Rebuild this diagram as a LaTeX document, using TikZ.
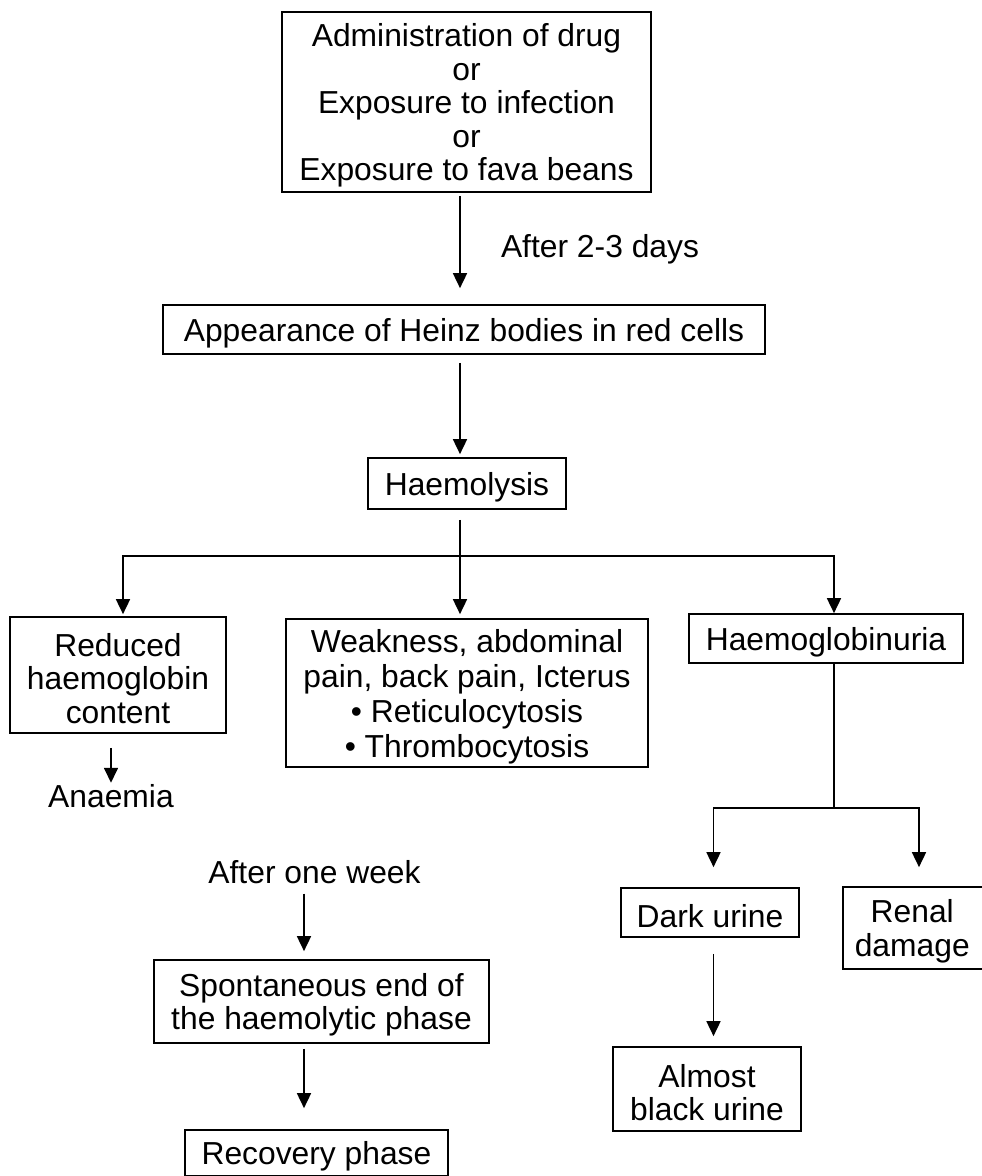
\documentclass[tikz,border=0pt]{standalone}
\usepackage{fontspec}
\setmainfont{Liberation Sans}
\usetikzlibrary{arrows.meta,calc}
\begin{document}
\begin{tikzpicture}[x=1pt,y=-1pt,
  txt/.style={font=\fontsize{31.8}{33.5}\selectfont},
  box/.style={draw, line width=1.7pt, inner sep=0pt},
  btxt/.style={txt, align=center, inner sep=0pt, yshift=-3.5pt},
  lbl/.style={txt, inner sep=0pt, anchor=base},
  arr/.style={line width=1.7pt, -{Triangle[length=15pt,width=14pt]}},
  ln/.style={line width=1.7pt}]
\useasboundingbox (0,0) rectangle (982,1176);

\node[box, minimum width=369pt, minimum height=180pt,
  label={[btxt]center:{Administration of drug\\or\\Exposure to infection\\or\\Exposure to fava beans}}] (top) at (466.5,102) {};
\node[lbl] (days) at (600,257) {After 2-3 days};
\node[box, minimum width=602pt, minimum height=49pt,
  label={[btxt]center:{Appearance of Heinz bodies in red cells}}] (heinz) at (464,329.5) {};
\node[box, minimum width=198pt, minimum height=51pt,
  label={[btxt]center:{Haemolysis}}] (haem) at (467,483.5) {};
\node[box, minimum width=216pt, minimum height=116pt,
  label={[btxt]center:{Reduced\\haemoglobin\\content}}] (left) at (118,675) {};
\node[box, minimum width=362pt, minimum height=148pt,
  label={[btxt, font=\fontsize{31.8}{35}\selectfont]center:{Weakness, abdominal\\pain, back pain, Icterus\\• Reticulocytosis\\• Thrombocytosis}}] (mid) at (467,693) {};
\node[box, minimum width=274pt, minimum height=49pt,
  label={[btxt]center:{Haemoglobinuria}}] (hgu) at (826,638.5) {};
\node[lbl] (anaemia) at (111,807) {Anaemia};
\node[lbl] (week) at (314.5,883) {After one week};
\node[box, minimum width=178pt, minimum height=49pt,
  label={[btxt]center:{Dark urine}}] (dark) at (710,912.5) {};
\node[box, minimum width=140pt, minimum height=82pt,
  label={[btxt, xshift=-0.75pt]center:{Renal\\damage}}] (renal) at (913,928) {};
\node[box, minimum width=188pt, minimum height=84pt,
  label={[btxt]center:{Almost\\black urine}}] (black) at (707,1089) {};
\node[box, minimum width=335pt, minimum height=83pt,
  label={[btxt]center:{Spontaneous end of\\the haemolytic phase}}] (spont) at (321.5,1001.5) {};
\node[box, minimum width=263pt, minimum height=46pt,
  label={[btxt]center:{Recovery phase}}] (recov) at (316.5,1153) {};

\coordinate (xa) at (460,0);
\coordinate (xl) at (123,0);
\coordinate (xr) at (834,0);
\coordinate (xd) at (713.5,0);
\coordinate (xn) at (919,0);
\coordinate (xw) at (304,0);
\coordinate (hj) at (460,556);
\coordinate (uj) at (834,808);

\draw[arr] ($(top.south -| xa)+(0,3)$) -- ($(heinz.north -| xa)+(0,-16)$);
\draw[arr] ($(heinz.south -| xa)+(0,8)$) -- ($(haem.north -| xa)+(0,-3)$);
\draw[ln] ($(haem.south -| xa)+(0,10)$) -- (hj);
\draw[arr] (hj) -- ($(mid.north -| xa)+(0,-4)$);
\draw[arr] (hj) -| ($(left.north -| xl)+(0,-2)$);
\draw[arr] (hj) -| (hgu.north -| xr);
\draw[arr] ($(left.south -| anaemia)+(0,14)$) -- ($(anaemia.north)+(0,-1)$);
\draw[ln] (hgu.south -| xr) -- (uj);
\draw[arr] (uj) -| ($(dark.north -| xd)+(0,-20)$);
\draw[arr] (uj) -| ($(renal.north -| xn)+(0,-19)$);
\draw[arr] ($(dark.south -| xd)+(0,16)$) -- ($(black.north -| xd)+(0,-10)$);
\draw[arr] ($(week.south -| xw)+(0,10)$) -- ($(spont.north -| xw)+(0,-8)$);
\draw[arr] ($(spont.south -| xw)+(0,5)$) -- ($(recov.north -| xw)+(0,-21)$);
\end{tikzpicture}
\end{document}
